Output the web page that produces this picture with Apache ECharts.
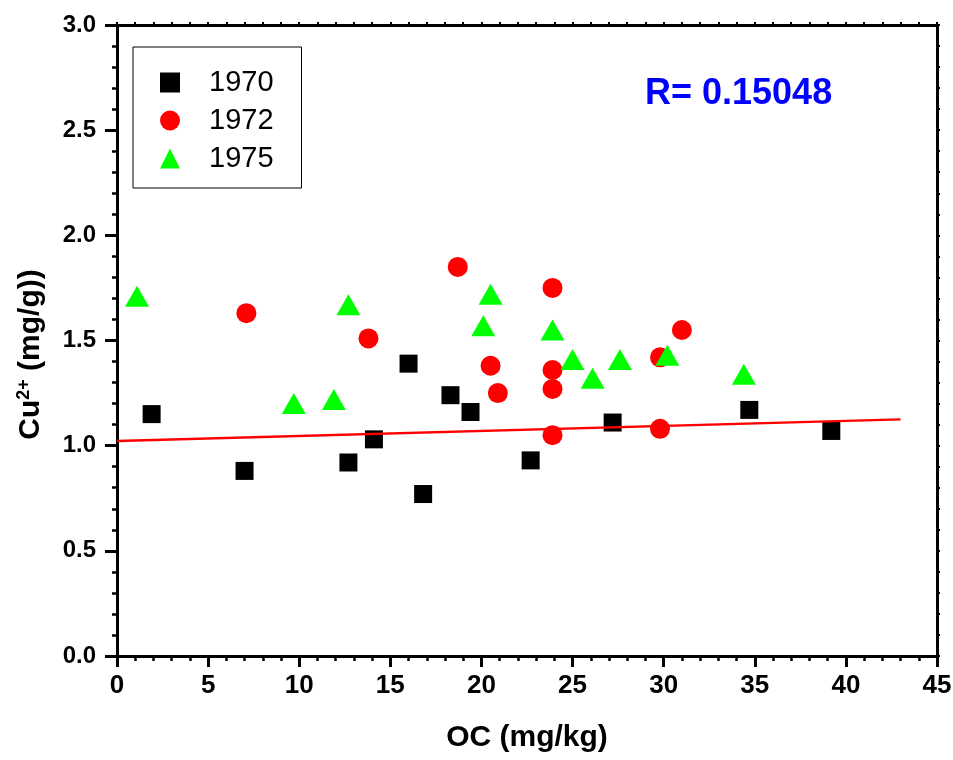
<!DOCTYPE html>
<html>
<head>
<meta charset="utf-8">
<script src="https://cdn.jsdelivr.net/npm/echarts@6/dist/echarts.min.js"></script>
<style>
  html, body { margin: 0; padding: 0; background: #fff; }
  #main { width: 953px; height: 760px; }
</style>
</head>
<body>
<div id="main"></div>
<script>
// OC (mg/kg) vs Cu2+ (mg/g), three sampling years
var data1970 = [
    [1.9, 1.15], [7.0, 0.88], [12.7, 0.92], [14.1, 1.03], [16.0, 1.39], [16.8, 0.77],
    [18.3, 1.24], [19.4, 1.16], [22.7, 0.93], [27.2, 1.11], [34.7, 1.17], [39.2, 1.07]
];
var data1972 = [
    [7.1, 1.63], [13.8, 1.51], [18.7, 1.85], [20.5, 1.38], [20.9, 1.25], [23.9, 1.75],
    [23.9, 1.36], [23.9, 1.27], [23.9, 1.05], [29.8, 1.42], [29.8, 1.08], [31.0, 1.55]
];
var data1975 = [
    [1.1, 1.71], [9.7, 1.20], [11.9, 1.22], [12.7, 1.67], [20.1, 1.57], [20.5, 1.72],
    [23.9, 1.55], [25.0, 1.41], [26.1, 1.32], [27.6, 1.41], [30.2, 1.43], [34.4, 1.34]
];
// linear fit drawn over the data
var fitLine = [[0, 1.022], [43, 1.125]];
var seriesNames = ['1970', '1972', '1975'];
var rText = 'R= 0.15048';

var myChart = echarts.init(document.getElementById('main'));

var font = 'Liberation Sans, Arial, sans-serif';
var axisLineStyle = { color: '#000', width: 3 };

var option = {
    backgroundColor: '#fff',
    animation: false,
    title: {
        text: rText,
        left: 640,
        top: 71,
        textStyle: { color: '#0000ff', fontSize: 36, fontWeight: 'bold', fontFamily: font }
    },
    legend: {
        data: seriesNames,
        orient: 'vertical',
        left: 133,
        top: 47,
        padding: [21, 28, 15, 27],
        itemGap: 9,
        itemWidth: 20,
        itemHeight: 20,
        borderColor: '#000',
        borderWidth: 1,
        textStyle: { color: '#000', fontSize: 29, fontFamily: font, padding: [0, 0, 0, 24] }
    },
    grid: {
        left: 117,
        top: 25,
        right: 16,
        bottom: 104,
        containLabel: false,
        outerBoundsMode: 'none'
    },
    xAxis: [{
        type: 'value',
        min: 0,
        max: 45,
        interval: 5,
        name: 'OC (mg/kg)',
        nameLocation: 'middle',
        nameGap: 67,
        nameTextStyle: { color: '#000', fontSize: 30, fontWeight: 'bold', fontFamily: font },
        axisLine: { show: true, onZero: false, lineStyle: axisLineStyle },
        axisTick: { show: true, length: 11, lineStyle: { width: 3, color: '#000' } },
        minorTick: { show: true, splitNumber: 5, length: 5, lineStyle: { width: 2.5, color: '#000' } },
        axisLabel: { color: '#000', fontSize: 26, fontWeight: 'bold', fontFamily: font, margin: 17 },
        splitLine: { show: false }
    }, {
        type: 'value',
        position: 'top',
        min: 0,
        max: 45,
        interval: 5,
        axisLine: { show: true, onZero: false, lineStyle: axisLineStyle },
        axisTick: { show: true, length: 3, lineStyle: { width: 2, color: '#000' } },
        minorTick: { show: true, splitNumber: 5, length: 3, lineStyle: { width: 2, color: '#000' } },
        axisLabel: { show: false },
        splitLine: { show: false }
    }],
    yAxis: [{
        type: 'value',
        min: 0,
        max: 3,
        interval: 0.5,
        name: '{b|Cu}{s|2+}{b| (mg/g))}',
        nameLocation: 'middle',
        nameGap: 70,
        nameTextStyle: {
            color: '#000',
            fontSize: 30,
            fontWeight: 'bold',
            fontFamily: font,
            padding: [0, 28, 0, 0],
            rich: {
                b: { fontSize: 30, fontWeight: 'bold', fontFamily: font, color: '#000' },
                s: { fontSize: 18, fontWeight: 'bold', fontFamily: font, color: '#000', padding: [0, 0, 14, 0] }
            }
        },
        axisLine: { show: true, onZero: false, lineStyle: axisLineStyle },
        axisTick: { show: true, length: 12, lineStyle: { width: 3, color: '#000' } },
        minorTick: { show: true, splitNumber: 5, length: 5, lineStyle: { width: 2.5, color: '#000' } },
        axisLabel: {
            color: '#000', fontSize: 24, fontWeight: 'bold', fontFamily: font, margin: 21,
            formatter: function (v) { return v.toFixed(1); }
        },
        splitLine: { show: false }
    }, {
        type: 'value',
        position: 'right',
        min: 0,
        max: 3,
        interval: 0.5,
        axisLine: { show: true, onZero: false, lineStyle: axisLineStyle },
        axisTick: { show: true, length: 3, lineStyle: { width: 2, color: '#000' } },
        minorTick: { show: true, splitNumber: 5, length: 3, lineStyle: { width: 2, color: '#000' } },
        axisLabel: { show: false },
        splitLine: { show: false }
    }],
    series: [
        {
            name: seriesNames[0],
            type: 'scatter',
            symbol: 'rect',
            symbolSize: 18,
            itemStyle: { color: '#000000', opacity: 1 },
            data: data1970,
            z: 2
        },
        {
            name: seriesNames[1],
            type: 'scatter',
            symbol: 'circle',
            symbolSize: 20,
            itemStyle: { color: '#ff0000', opacity: 1 },
            data: data1972,
            z: 3
        },
        {
            name: seriesNames[2],
            type: 'scatter',
            symbol: 'triangle',
            symbolSize: [24, 21],
            itemStyle: { color: '#00ff00', opacity: 1 },
            data: data1975,
            z: 4
        },
        {
            name: 'fit',
            type: 'line',
            data: fitLine,
            symbol: 'none',
            lineStyle: { color: '#ff0000', width: 2.5 },
            silent: true,
            z: 5
        }
    ]
};

myChart.setOption(option);
</script>
</body>
</html>
